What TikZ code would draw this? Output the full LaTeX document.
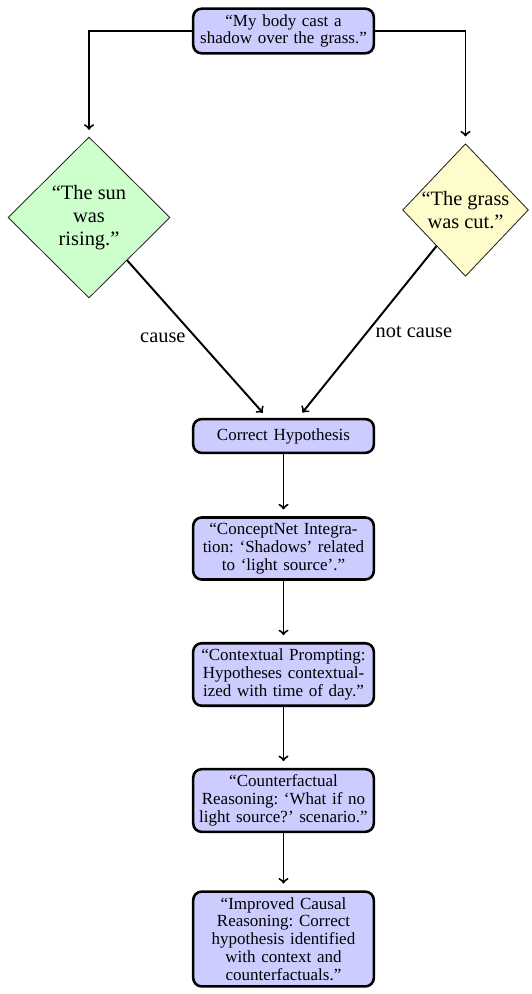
\documentclass[tikz,border=0pt]{standalone}
\usepackage{fontspec}
\setmainfont{Liberation Serif}
\usetikzlibrary{shapes.geometric}
\frenchspacing
\begin{document}
\begin{tikzpicture}[x=0.5882pt,y=-0.5882pt,
  procbox/.style={draw=black, line width=1.5pt, rounded corners=5pt, fill=blue!20,
    text width=3.5cm, align=center, minimum height=0.7cm, font=\fontsize{10}{10.5}\selectfont},
  dmd/.style={diamond, draw=black!85, line width=0.5pt, align=center,
    font=\fontsize{12}{13.7}\selectfont, inner sep=-2pt},
  conn/.style={->, line width=1.15pt, shorten >=4pt},
  lbl/.style={font=\fontsize{12}{14}\selectfont}]
\useasboundingbox (0,0) rectangle (531,994);

\node[procbox] (top) at (283.5,31) {“My body cast a\\shadow over the grass.”};
\node[dmd, fill=green!20, minimum width=95.3pt, minimum height=94.7pt] (green) at (89,217.5) {“The sun\\was\\rising.”};
\node[dmd, fill=yellow!20, minimum width=74pt, minimum height=78pt] (yellow) at (465.5,210) {“The grass\\was cut.”};
\node[procbox] (hyp) at (283.5,436) {Correct Hypothesis};
\node[procbox] (cn) at (283.5,548.5) {“ConceptNet Integra-\\tion: ‘Shadows’ related\\to ‘light source’.”};
\node[procbox] (ctx) at (283.5,674.5) {“Contextual Prompting:\\Hypotheses contextual-\\ized with time of day.”};
\node[procbox] (cf) at (283.5,800.5) {“Counterfactual\\Reasoning: ‘What if no\\light source?’ scenario.”};
\node[procbox] (imp) at (283.5,939) {“Improved Causal\\Reasoning: Correct\\hypothesis identified\\with context and\\counterfactuals.”};

\draw[conn] (top.west) -| (green.north);
\draw[conn] (top.east) -| (yellow.north);
\draw[conn] (green) -- node[lbl, midway, left, xshift=-3pt, yshift=1pt] {cause} (hyp);
\draw[conn] (yellow) -- node[lbl, midway, right, xshift=1pt] {not cause} (hyp);
\draw[conn] (hyp) -- (cn);
\draw[conn] (cn) -- (ctx);
\draw[conn] (ctx) -- (cf);
\draw[conn] (cf) -- (imp);
\end{tikzpicture}
\end{document}
